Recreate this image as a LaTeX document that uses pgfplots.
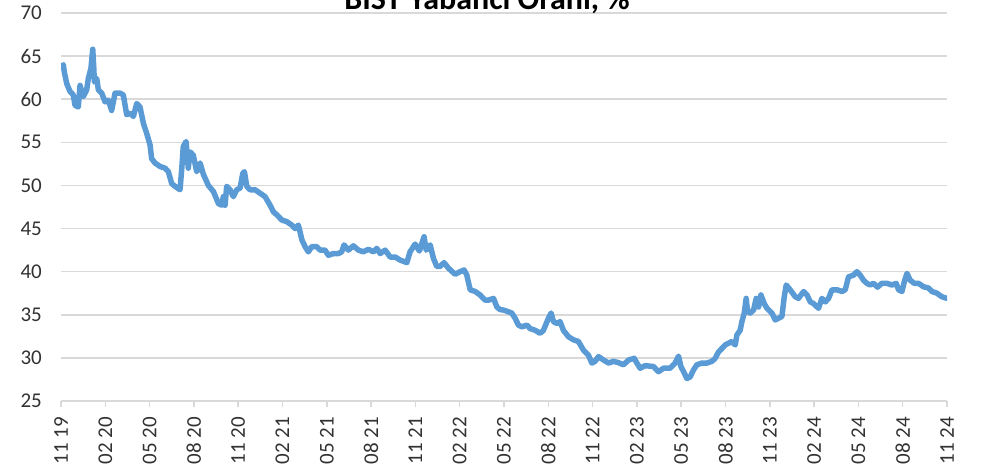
\documentclass[border=0pt]{standalone}
\usepackage{pgfplots}
\pgfplotsset{compat=1.18}
\usepackage{fontspec}
\setmainfont{Carlito}
\definecolor{lineblue}{RGB}{91,155,213}
\definecolor{gridgray}{RGB}{217,217,217}
\definecolor{txtgray}{RGB}{50,50,50}
\begin{document}
\begin{tikzpicture}
\begin{axis}[
  at={(61pt,65pt)}, anchor=south west,
  scale only axis, width=886pt, height=388pt,
  xmin=0, xmax=60, ymin=25, ymax=70,
  ytick={25,30,...,70},
  xtick={0,3,...,60},
  xticklabels={11 19,02 20,05 20,08 20,11 20,02 21,05 21,08 21,11 21,02 22,05 22,08 22,11 22,02 23,05 23,08 23,11 23,02 24,05 24,08 24,11 24},
  axis line style={draw=none},
  ymajorgrids, grid style={gridgray, line width=1.5pt},
  xtick pos=bottom, xtick align=outside, major tick length=6pt,
  xtick style={gridgray, line width=1.5pt},
  ytick style={draw=none},
  /pgf/number format/assume math mode=true,
  tick label style={font=\fontsize{21}{25}\selectfont, text=txtgray},
  xticklabel style={rotate=90, anchor=east, inner sep=0pt},
  yticklabel style={anchor=east, inner sep=0pt},
  xticklabel shift=10pt, yticklabel shift=19pt,
]
\addplot[lineblue, line width=5.5pt, line join=round, line cap=round] table {
0.05 63.8
0.16 64.0
0.22 63.2
0.39 61.8
0.61 60.9
0.83 60.5
0.95 59.3
1.17 59.1
1.29 61.6
1.51 60.3
1.74 61.1
1.85 62.4
2.03 63.6
2.15 65.8
2.22 63.6
2.26 62.0
2.42 62.4
2.53 61.1
2.76 60.7
2.98 59.7
3.20 59.9
3.43 58.7
3.66 60.7
4.00 60.7
4.22 60.5
4.45 58.2
4.67 58.4
4.90 58.0
5.13 59.5
5.35 59.1
5.58 57.2
5.81 56.0
6.03 54.7
6.14 53.1
6.37 52.6
6.71 52.2
7.05 52.0
7.27 51.6
7.50 50.2
7.72 49.9
8.06 49.5
8.18 52.0
8.28 54.5
8.47 55.1
8.62 52.0
8.74 53.9
8.96 53.5
9.19 51.6
9.42 52.6
9.64 51.3
9.98 50.0
10.32 49.3
10.66 47.9
10.89 47.7
10.99 48.7
11.11 47.7
11.22 49.9
11.45 49.5
11.67 48.7
11.90 49.5
12.13 49.7
12.31 51.4
12.42 51.6
12.58 49.9
12.80 49.5
13.14 49.5
13.48 49.1
13.82 48.7
14.16 47.7
14.38 46.95
14.61 46.6
14.95 46.0
15.29 45.8
15.63 45.4
15.85 45.0
16.07 45.4
16.19 44.6
16.31 43.7
16.53 42.9
16.75 42.3
16.98 42.9
17.32 42.9
17.54 42.5
17.88 42.5
18.11 41.9
18.45 42.1
18.78 42.1
19.01 42.3
19.17 43.1
19.46 42.5
19.80 43.0
20.14 42.5
20.48 42.3
20.82 42.6
21.16 42.3
21.39 42.7
21.61 42.1
21.95 42.5
22.29 41.7
22.63 41.7
22.96 41.35
23.42 41.05
23.64 42.3
23.98 43.2
24.27 42.4
24.59 44.05
24.73 42.5
25.00 43.1
25.22 41.55
25.45 40.6
25.67 40.6
25.94 41.05
26.24 40.4
26.69 39.7
27.03 40.0
27.30 40.2
27.48 39.6
27.71 37.9
28.05 37.7
28.38 37.3
28.72 36.7
28.95 36.7
29.29 36.9
29.52 35.9
29.74 35.6
29.96 35.55
30.30 35.35
30.53 35.2
30.75 34.6
30.98 33.8
31.21 33.6
31.55 33.8
31.77 33.4
32.11 33.2
32.45 32.85
32.67 33.2
33.01 34.6
33.19 35.2
33.35 34.2
33.58 34.0
33.80 34.2
34.02 33.2
34.37 32.45
34.70 32.1
35.04 31.9
35.38 30.9
35.72 30.3
35.95 29.4
36.17 29.6
36.40 30.15
36.74 29.75
37.08 29.4
37.41 29.6
37.75 29.45
38.09 29.2
38.43 29.75
38.82 29.95
39.00 29.4
39.22 28.8
39.56 29.1
40.12 29.0
40.46 28.4
40.80 28.8
41.25 28.8
41.59 29.4
41.82 30.2
41.98 29.0
42.16 28.4
42.39 27.6
42.61 27.8
42.83 28.6
43.06 29.2
43.40 29.4
43.74 29.4
44.08 29.6
44.30 29.95
44.53 30.7
44.76 31.1
44.98 31.5
45.20 31.7
45.43 31.9
45.66 31.5
45.77 32.65
45.99 33.2
46.11 34.2
46.27 35.2
46.40 36.9
46.49 35.4
46.67 35.2
46.90 35.55
47.08 36.9
47.24 35.9
47.40 37.3
47.62 36.3
47.81 35.75
48.14 35.2
48.37 34.4
48.59 34.6
48.82 34.8
48.98 37.1
49.11 38.45
49.38 37.9
49.72 37.1
49.94 36.9
50.29 37.7
50.52 37.3
50.74 36.5
50.96 36.3
51.30 35.75
51.53 36.9
51.76 36.5
51.98 36.9
52.21 37.9
52.55 37.9
52.89 37.7
53.11 37.9
53.33 39.4
53.67 39.6
53.90 40.0
54.12 39.6
54.35 39.0
54.57 38.65
54.80 38.45
55.02 38.65
55.29 38.2
55.59 38.65
55.93 38.65
56.27 38.45
56.56 38.65
56.72 37.9
56.95 37.7
57.11 38.85
57.29 39.8
57.51 39.0
57.78 38.65
58.07 38.65
58.41 38.25
58.75 38.1
58.98 37.7
59.32 37.5
59.64 37.1
60.00 36.9
};
\end{axis}
\node[anchor=base, font=\bfseries\fontsize{32}{38}\selectfont] at (487pt,456.7pt) {BIST Yabancı Oranı, \%};
\pgfresetboundingbox
\path[use as bounding box] (0,0) rectangle (987pt,466pt);
\end{tikzpicture}
\end{document}
